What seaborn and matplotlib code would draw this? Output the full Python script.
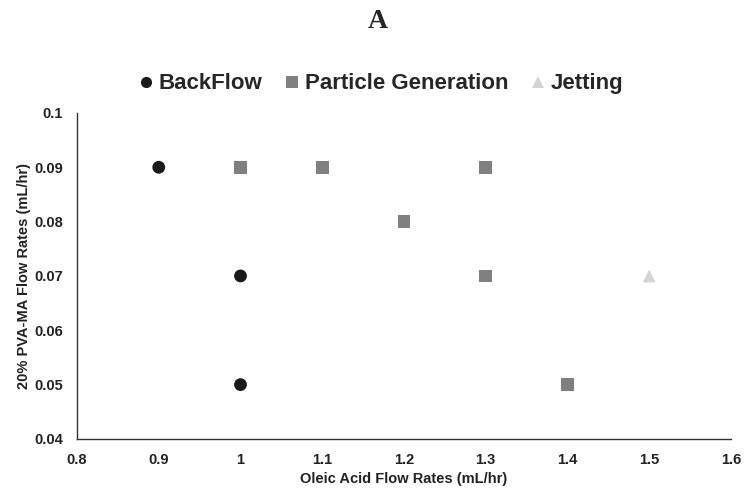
import matplotlib
matplotlib.use("Agg")
import matplotlib.pyplot as plt
import seaborn as sns
import pandas as pd
from matplotlib.lines import Line2D

# Flow-rate regimes observed
backflow_x = [0.9, 1.0, 1.0]
backflow_y = [0.09, 0.07, 0.05]
particle_x = [1.0, 1.1, 1.2, 1.3, 1.3, 1.4]
particle_y = [0.09, 0.09, 0.08, 0.09, 0.07, 0.05]
jetting_x = [1.5]
jetting_y = [0.07]

regimes = ["BackFlow", "Particle Generation", "Jetting"]
x_ticks = [0.8, 0.9, 1.0, 1.1, 1.2, 1.3, 1.4, 1.5, 1.6]
x_tick_labels = ["0.8", "0.9", "1", "1.1", "1.2", "1.3", "1.4", "1.5", "1.6"]
y_ticks = [0.04, 0.05, 0.06, 0.07, 0.08, 0.09, 0.1]
y_tick_labels = ["0.04", "0.05", "0.06", "0.07", "0.08", "0.09", "0.1"]

df = pd.concat([
    pd.DataFrame({"oleic": backflow_x, "pva": backflow_y, "regime": regimes[0]}),
    pd.DataFrame({"oleic": particle_x, "pva": particle_y, "regime": regimes[1]}),
    pd.DataFrame({"oleic": jetting_x, "pva": jetting_y, "regime": regimes[2]}),
])

sns.set_style("white")
plt.rcParams["font.family"] = ["Liberation Sans", "DejaVu Sans"]

colors = {"BackFlow": "#1a1a1a", "Particle Generation": "#808080", "Jetting": "#d4d4d4"}
markers = {"BackFlow": "o", "Particle Generation": "s", "Jetting": "^"}

fig = plt.figure(figsize=(7.45, 4.91), dpi=100)
ax = fig.add_axes([0.1034, 0.106, 0.8777, 0.664])

sns.scatterplot(data=df, x="oleic", y="pva", hue="regime", style="regime",
                palette=colors, markers=markers, s=85, edgecolor="none",
                legend=False, ax=ax)

ax.set_xlim(0.8, 1.6)
ax.set_ylim(0.04, 0.1)
ax.set_xticks(x_ticks)
ax.set_xticklabels(x_tick_labels, fontweight="bold", fontsize=10.5)
ax.set_yticks(y_ticks)
ax.set_yticklabels(y_tick_labels, fontweight="bold", fontsize=10.5)
ax.tick_params(axis="both", direction="out", length=4, width=1, color="#333333",
               pad=6, labelcolor="#222222")
ax.tick_params(axis="x", pad=6)

for side in ["top", "right"]:
    ax.spines[side].set_visible(False)
for side in ["left", "bottom"]:
    ax.spines[side].set_color("#333333")
    ax.spines[side].set_linewidth(1)

ax.set_xlabel("Oleic Acid Flow Rates (mL/hr)", fontweight="bold", fontsize=10.5,
              color="#222222", labelpad=4)
ax.set_ylabel("20% PVA-MA Flow Rates (mL/hr)", fontweight="bold", fontsize=10.5,
              color="#222222", labelpad=2)

handles = [Line2D([], [], linestyle="none", marker=markers[r], color=colors[r],
                  markersize=8, markeredgewidth=0) for r in regimes]
fig.legend(handles, regimes, loc="center", bbox_to_anchor=(0.509, 0.829), ncol=3,
           frameon=False, prop={"weight": "bold", "size": 16},
           handletextpad=0.05, columnspacing=0.85, handlelength=1.0)

fig.text(0.507, 0.957, "A", ha="center", va="center", fontsize=20,
         fontweight="bold", family=["Liberation Serif", "DejaVu Serif"])

fig.savefig("out.png", dpi=100)
